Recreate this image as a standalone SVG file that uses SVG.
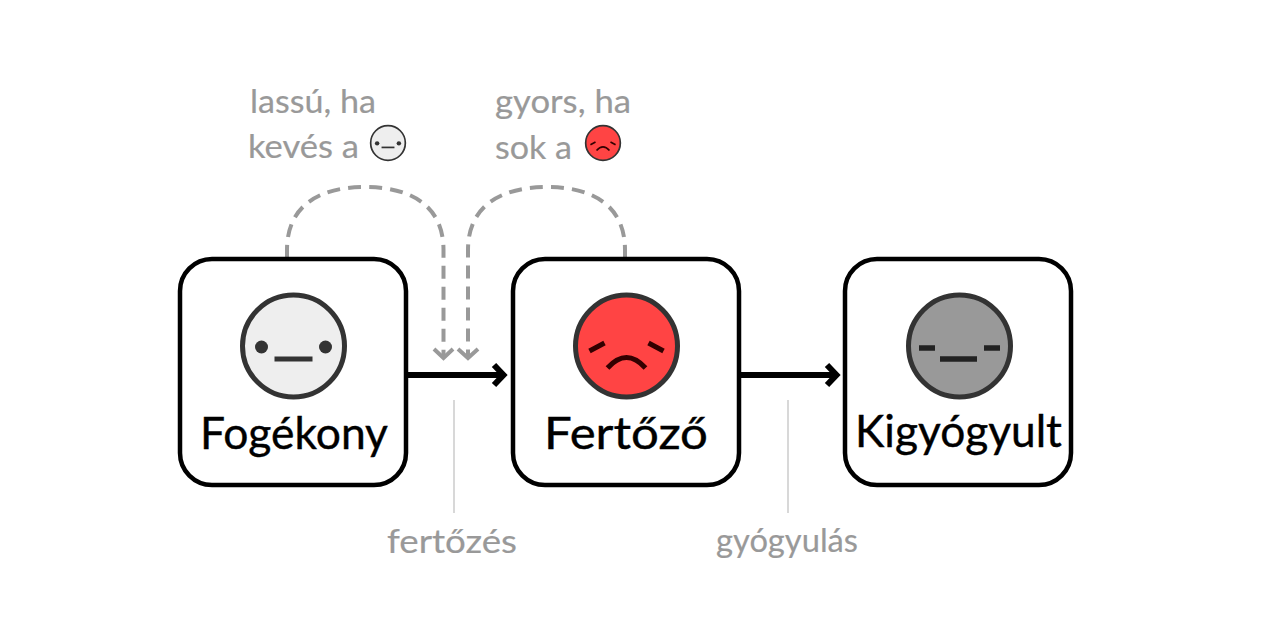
<svg xmlns="http://www.w3.org/2000/svg" width="1280" height="640" viewBox="0 0 1280 640">
<style>
text{font-family:"Lato","Noto Sans",sans-serif}
.box{fill:#fff;stroke:#000;stroke-width:4.5}
.name{font-size:44px;fill:#000;stroke:#000;stroke-width:.4}
.note{font-size:32px;fill:#999;stroke:#999;stroke-width:.2}
.face{stroke:#333;stroke-width:5}
.mouth{fill:none;stroke:#333;stroke-width:5}
.main{fill:none;stroke:#000;stroke-width:6}
.dash{fill:none;stroke:#999;stroke-width:4;stroke-dasharray:13 8}
.head{fill:none;stroke:#999;stroke-width:4}
.tick{stroke:#ccc;stroke-width:1.5}
</style>
<defs>
<g id="sus"><circle class="face" r="51" fill="#eee"/><circle cx="-32" cy="1" r="6.5" fill="#333"/><circle cx="32" cy="1" r="6.5" fill="#333"/><path class="mouth" d="M-19 13H19"/></g>
<g id="inf"><circle class="face" r="51" fill="#f44"/><path d="M-37 5L-22 -3M37 5L22 -3M-19 22Q0 1 19 22" fill="none" stroke="#300" stroke-width="5"/></g>
</defs>
<g id="connectors">
<path class="dash" d="M287 258V250C287 205 320 187 365 187C410 187 443.5 205 443.5 250V358"/>
<path class="head" d="M434 349L443.5 358L453 349"/>
<path class="dash" d="M625 258V250C625 205 592 187 547 187C502 187 468 205 468 250V358"/>
<path class="head" d="M458 349L468 358L478 349"/>
<path class="main" d="M408 375H502M494 365L503.5 375L494 385"/>
<path class="main" d="M741 375H835M827 365L836.5 375L827 385"/>
<path class="tick" d="M454 400V513M788 400V513"/>
</g>
<g id="fogekony">
<rect class="box" x="180" y="259" width="226" height="226" rx="32"/>
<use href="#sus" x="293.5" y="346"/>
<text class="name" x="200" y="449" textLength="188" lengthAdjust="spacingAndGlyphs">Fogékony</text>
</g>
<g id="fertozo">
<rect class="box" x="513" y="259" width="226" height="226" rx="32"/>
<use href="#inf" x="626.5" y="346"/>
<text class="name" x="544" y="449" textLength="164" lengthAdjust="spacingAndGlyphs">Fertőző</text>
</g>
<g id="kigyogyult">
<rect class="box" x="845" y="259" width="226" height="226" rx="32"/>
<circle class="face" cx="959.5" cy="346" r="51" fill="#999"/>
<path d="M919 348H935M984 348H1000" stroke="#222" stroke-width="5.5" fill="none"/>
<path d="M940 359H977" stroke="#222" stroke-width="5.5" fill="none"/>
<text class="name" x="855" y="447" textLength="207" lengthAdjust="spacingAndGlyphs">Kigyógyult</text>
</g>
<g id="labels">
<text class="note" x="250" y="113" textLength="126" lengthAdjust="spacingAndGlyphs">lassú, ha</text>
<text class="note" x="248" y="158" textLength="111" lengthAdjust="spacingAndGlyphs">kevés a</text>
<text class="note" x="495" y="113" textLength="136" lengthAdjust="spacingAndGlyphs">gyors, ha</text>
<text class="note" x="495" y="159" textLength="77" lengthAdjust="spacingAndGlyphs">sok a</text>
<text class="note" x="387" y="553" textLength="130" lengthAdjust="spacingAndGlyphs">fertőzés</text>
<text class="note" x="716" y="552" textLength="142" lengthAdjust="spacingAndGlyphs">gyógyulás</text>
<use href="#sus" transform="translate(388 143) scale(.34)"/>
<use href="#inf" transform="translate(603 143) scale(.34)"/>
</g>
</svg>
